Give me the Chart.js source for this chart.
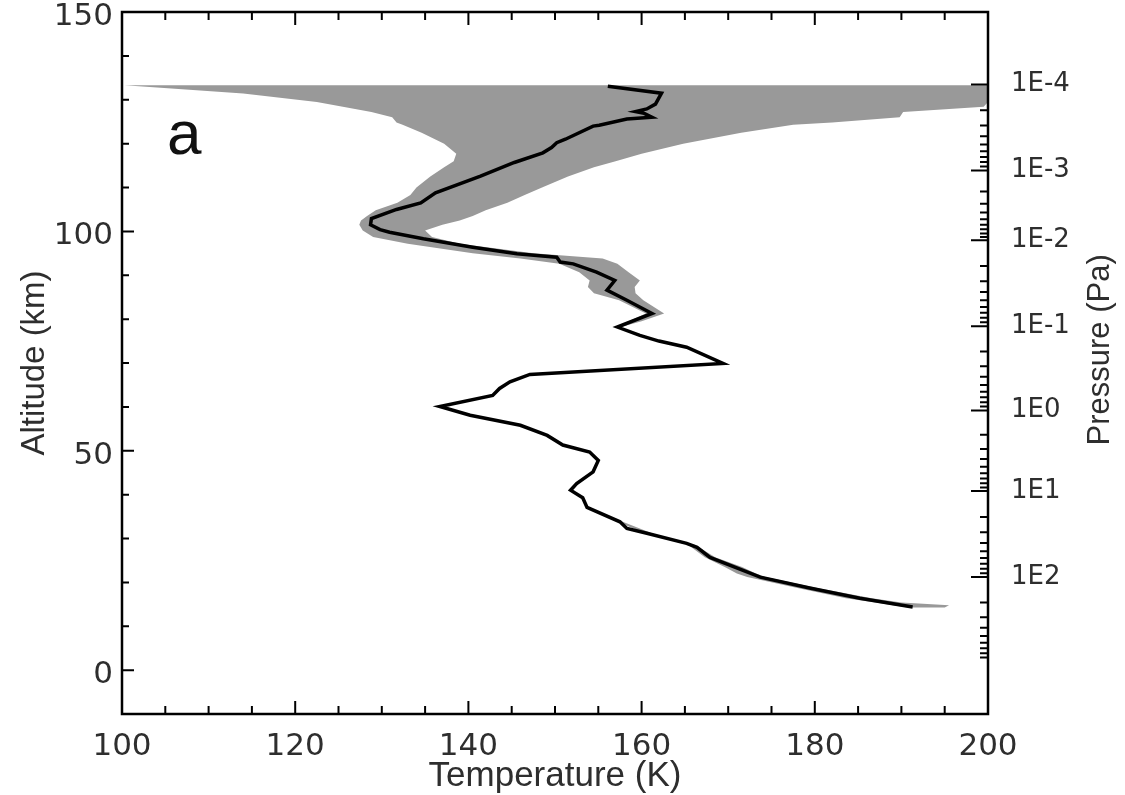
<!DOCTYPE html>
<html>
<head>
<meta charset="utf-8">
<title>Temperature profile</title>
<script src="https://cdn.jsdelivr.net/npm/chart.js@4.4.1/dist/chart.umd.min.js"></script>
<style>
  html, body { margin: 0; padding: 0; background: #fff; }
  #wrap { width: 1125px; height: 795px; position: relative; }
</style>
</head>
<body>
<div id="wrap"><canvas id="chart"></canvas></div>
<script>
// Retrieved temperature profile, top to bottom
const profileAlt = [133.1, 131.5, 129.0, 127.9, 127.3, 126.9, 126.0, 125.6, 124.2, 124.0,
  121.0, 120.2, 119.1, 117.9, 115.7, 112.6, 108.8, 106.5, 105.0, 102.9,
  101.5, 100.4, 99.8, 98.3, 96.4, 94.9, 94.1, 93.0, 92.6, 90.7,
  88.8, 86.6, 84.3, 81.3, 78.2, 76.3, 75.0, 73.6, 69.9, 67.4,
  65.7, 64.2, 62.6, 60.1, 58.1, 55.8, 53.5, 51.3, 49.7, 47.8,
  45.2, 42.5, 41.0, 39.3, 37.1, 33.8, 32.3, 31.2, 28.9, 28.0,
  25.7, 21.2, 18.7, 16.4, 14.4];
const profileTemp = [156.1, 162.3, 161.6, 160.6, 159.3, 160.3, 161.2, 158.3, 155.1, 154.4,
  151.2, 150.2, 149.6, 148.6, 145.3, 141.4, 136.2, 134.5, 131.7, 128.8,
  128.7, 129.8, 130.9, 134.8, 140.5, 145.6, 150.2, 150.6, 152.1, 154.8,
  156.9, 156.0, 158.3, 161.2, 157.2, 159.8, 162.0, 165.2, 169.4, 147.1,
  144.8, 143.6, 142.8, 136.7, 140.2, 146.0, 149.1, 150.9, 154.0, 155.0,
  154.4, 152.5, 151.8, 153.2, 153.7, 157.5, 158.3, 160.6, 165.2, 166.4,
  167.9, 173.7, 179.4, 185.2, 191.3];

// Uncertainty envelope, upper atmosphere (top to bottom)
const bandAltUpper = [133.3, 131.4, 129.5, 128.4, 127.2, 126.0, 124.8, 124.3, 122.5, 120.0,
  117.7, 116.0, 114.6, 112.5, 110.0, 108.3, 106.5, 104.8, 103.5, 102.5,
  101.5, 100.2, 98.7, 97.2, 95.0, 93.8, 92.6, 90.7, 88.8, 87.3,
  85.9, 84.3, 81.3, 79.5, 78.2];
const bandLowUpper = [100.3, 114.0, 122.5, 125.5, 128.8, 131.2, 131.7, 132.4, 134.6, 137.2,
  138.6, 138.3, 137.2, 135.6, 134.0, 133.3, 131.8, 129.3, 128.3, 127.6,
  127.4, 127.8, 129.0, 133.0, 140.5, 146.0, 150.5, 152.8, 154.0, 153.8,
  154.5, 157.4, 160.5, 158.5, 157.0];
const bandHighUpper = [200.0, 200.0, 200.0, 199.5, 190.2, 189.8, 182.0, 177.5, 171.5, 164.8,
  160.0, 157.0, 154.5, 151.5, 148.5, 146.5, 144.5, 142.0, 140.5, 139.0,
  137.0, 135.0, 135.8, 139.0, 147.5, 155.5, 157.2, 158.5, 159.8, 159.2,
  159.3, 160.2, 162.6, 160.0, 157.6];

// Uncertainty envelope, lowest levels (top to bottom)
const bandAltLower = [34.0, 31.0, 28.5, 25.7, 23.5, 22.0, 21.2, 18.7, 16.4, 15.4, 14.8, 14.3];
const bandLowLower = [157.0, 160.6, 165.4, 167.3, 169.6, 171.0, 172.2, 178.0, 183.6, 187.0, 189.0, 190.8];
const bandHighLower = [157.6, 161.4, 166.2, 168.5, 171.6, 173.2, 174.3, 180.3, 186.6, 190.0, 195.5, 195.0];

// Axes
const tempTicks = [100, 120, 140, 160, 180, 200];
const tempMinorStep = 5;
const altTicks = [0, 50, 100, 150];
const altMinorStep = 10;
const pressureLabels = ['1E-4', '1E-3', '1E-2', '1E-1', '1E0', '1E1', '1E2'];
const pressureAlt = [133.5, 113.9, 98.0, 78.4, 59.2, 40.8, 21.2];
const pressureAltNext = 2.0; // altitude of 1E3 Pa, only for minor ticks

const TEXT = '#2e2e2e';
const SANS = '"Liberation Sans", Arial, sans-serif';
const DIGITS = '"DejaVu Sans", sans-serif';

function envelope(alt, low, high) {
  const pts = alt.map((a, i) => ({ x: low[i], y: a }));
  for (let i = alt.length - 1; i >= 0; i--) pts.push({ x: high[i], y: alt[i] });
  return pts;
}

const profile = profileAlt.map((a, i) => ({ x: profileTemp[i], y: a }));

function fixTicks(values) {
  return (axis) => { axis.ticks = values.map((v) => ({ value: v })); };
}

function noEdgePadding(scale) {
  scale.paddingTop = 0;
  scale.paddingBottom = 0;
  scale.paddingLeft = 0;
  scale.paddingRight = 0;
}

// inward tick marks, frame, panel letter and right-hand title
const axisDecor = {
  id: 'axisDecor',
  afterDatasetsDraw(chart) {
    const { ctx, chartArea: a, scales: { x, y } } = chart;
    ctx.save();
    ctx.strokeStyle = '#000';
    ctx.lineWidth = 2;
    ctx.beginPath();
    for (let v = tempTicks[0]; v <= tempTicks[tempTicks.length - 1]; v += tempMinorStep) {
      const px = x.getPixelForValue(v);
      const len = tempTicks.includes(v) ? 13 : 8;
      ctx.moveTo(px, a.bottom); ctx.lineTo(px, a.bottom - len);
      ctx.moveTo(px, a.top); ctx.lineTo(px, a.top + len);
    }
    for (let v = y.min; v <= y.max; v += altMinorStep) {
      const py = y.getPixelForValue(v);
      const len = altTicks.includes(v) ? 12 : 7;
      ctx.moveTo(a.left, py); ctx.lineTo(a.left + len, py);
    }
    pressureAlt.forEach((alt, i) => {
      const py = y.getPixelForValue(alt);
      ctx.moveTo(a.right, py); ctx.lineTo(a.right - 17, py);
      const next = i + 1 < pressureAlt.length ? pressureAlt[i + 1] : pressureAltNext;
      for (let k = 2; k <= 9; k++) {
        const pm = y.getPixelForValue(alt + (next - alt) * Math.log10(k));
        ctx.moveTo(a.right, pm); ctx.lineTo(a.right - 8, pm);
      }
    });
    ctx.stroke();
    ctx.lineWidth = 2.5;
    ctx.strokeRect(a.left, a.top, a.right - a.left, a.bottom - a.top);

    ctx.fillStyle = '#111';
    ctx.font = '62px ' + SANS;
    ctx.textAlign = 'center';
    ctx.textBaseline = 'middle';
    ctx.fillText('a', x.getPixelForValue(107.2), y.getPixelForValue(121.6));

    ctx.fillStyle = TEXT;
    ctx.font = '31px ' + SANS;
    ctx.translate(a.right + 112, y.getPixelForValue(73));
    ctx.rotate(-Math.PI / 2);
    ctx.fillText('Pressure (Pa)', 0, 0);
    ctx.restore();
  }
};

new Chart(document.getElementById('chart'), {
  type: 'scatter',
  data: {
    datasets: [
      {
        label: 'Temperature',
        data: profile,
        showLine: true,
        borderColor: '#000',
        borderWidth: 3.5,
        pointRadius: 0,
        fill: false,
        order: 0,
      },
      {
        label: 'Envelope (upper)',
        data: envelope(bandAltUpper, bandLowUpper, bandHighUpper),
        showLine: true,
        borderWidth: 0,
        borderColor: 'rgba(0,0,0,0)',
        backgroundColor: '#999999',
        pointRadius: 0,
        fill: 'shape',
        order: 1,
      },
      {
        label: 'Envelope (lower)',
        data: envelope(bandAltLower, bandLowLower, bandHighLower),
        showLine: true,
        borderWidth: 0,
        borderColor: 'rgba(0,0,0,0)',
        backgroundColor: '#999999',
        pointRadius: 0,
        fill: 'shape',
        order: 2,
      },
    ],
  },
  options: {
    responsive: true,
    maintainAspectRatio: false,
    animation: false,
    events: [],
    layout: { padding: { top: 12, left: 0, right: 0, bottom: 0 } },
    plugins: {
      legend: { display: false },
      tooltip: { enabled: false },
    },
    scales: {
      x: {
        type: 'linear',
        position: 'bottom',
        min: 100,
        max: 200,
        afterBuildTicks: fixTicks(tempTicks),
        afterFit: (s) => { s.height = 81; noEdgePadding(s); },
        grid: { display: false },
        border: { display: false },
        ticks: { color: TEXT, font: { family: DIGITS, size: 31 }, padding: 6, maxRotation: 0, autoSkip: false },
        title: { display: true, text: 'Temperature (K)', color: TEXT, font: { family: SANS, size: 35 }, padding: { top: 0, bottom: -2 } },
      },
      y: {
        type: 'linear',
        position: 'left',
        min: -10,
        max: 150,
        afterBuildTicks: fixTicks(altTicks),
        afterFit: (s) => { s.width = 122; noEdgePadding(s); },
        grid: { display: false },
        border: { display: false },
        ticks: { color: TEXT, font: { family: DIGITS, size: 31 }, padding: 1, labelOffset: 5, autoSkip: false },
        title: { display: true, text: 'Altitude (km)', color: TEXT, font: { family: SANS, size: 33 }, padding: { top: 15, bottom: 0 } },
      },
      y2: {
        type: 'linear',
        position: 'right',
        min: -10,
        max: 150,
        afterBuildTicks: fixTicks(pressureAlt),
        afterFit: (s) => { s.width = 137; noEdgePadding(s); },
        grid: { display: false },
        border: { display: false },
        ticks: {
          color: TEXT,
          font: { family: DIGITS, size: 26 },
          padding: 15,
          autoSkip: false,
          callback: (v) => pressureLabels[pressureAlt.indexOf(v)],
        },
      },
    },
  },
  plugins: [axisDecor],
});
</script>
</body>
</html>
